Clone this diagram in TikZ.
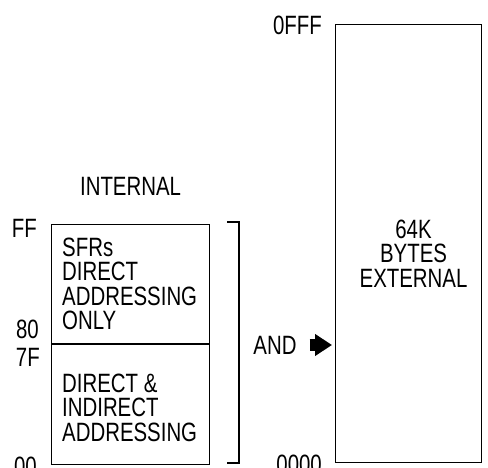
\documentclass[tikz,border=0pt]{standalone}
\usepackage{fontspec}
\setmainfont{Liberation Sans}[FakeStretch=0.77]
\usetikzlibrary{arrows.meta,positioning,calc}

\begin{document}
\begin{tikzpicture}[
  x=1pt,y=-1pt,
  font=\fontsize{26.5}{24.5}\selectfont,
  mem/.style  ={draw,line width=1.1pt,inner sep=0pt},
  txt/.style  ={align=left,inner sep=0pt},
  addr/.style ={inner sep=0pt,anchor=east},
  >={Triangle[length=17pt,width=21pt]}]
\useasboundingbox (0,0) rectangle (488,468);

% ---------- internal RAM ----------
\node[mem,anchor=north west,minimum width=158pt,minimum height=119pt] (sfr) at (51,224) {};
\node[mem,anchor=north west,minimum width=158pt,minimum height=120pt] (dir) at (sfr.south west) {};
\node[txt,anchor=west,xshift=11pt] (sfrtxt) at (sfr.west) {SFRs\\DIRECT\\ADDRESSING\\ONLY};
\node[txt,anchor=west,xshift=11pt,yshift=-3pt] (dirtxt) at (dir.west) {DIRECT \&\\INDIRECT\\ADDRESSING};
\node[inner sep=0pt,above=28pt of sfr] (int) {INTERNAL};

\node[addr] (aFF) at ($(sfr.north west)+(-14,4)$) {FF};
\node[addr] (a80) at ($(sfr.south west)+(-12,-15)$) {80};
\node[addr] (a7F) at ($(dir.north west)+(-11,13)$) {7F};
\node[addr] (a00) at ($(dir.south west)+(-14,1)$) {00};

% bracket
\draw[line width=1.1pt] (227,222) -- (239,222) -- (239,463) -- (227,463);

% ---------- external RAM ----------
\node[mem,anchor=north west,minimum width=146pt,minimum height=438pt] (ext) at (335,24) {};
\node[align=center,inner sep=0pt] (exttxt) at ($(ext.center)+(5,10)$) {64K\\BYTES\\EXTERNAL};
\node[addr] (a0FFF) at ($(ext.north west)+(-13,1)$) {0FFF};
\node[addr] (a0000) at ($(ext.south west)+(-13,1)$) {0000};

\node[inner sep=0pt] (and) at (275,345) {AND};
\draw[->,line width=12pt] ([xshift=13pt]and.east) -- ([xshift=-3pt]and.east -| ext.west);

\end{tikzpicture}
\end{document}
